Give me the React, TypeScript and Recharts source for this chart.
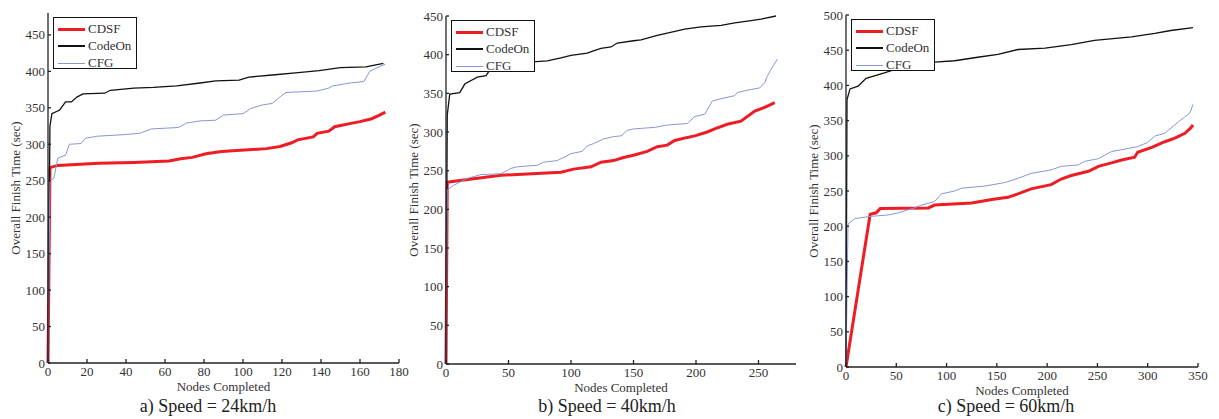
import { Line, LineChart, XAxis, YAxis } from "recharts";

const FONT = "'Liberation Serif', 'Times New Roman', serif";

const SERIES_NAMES = ["CDSF", "CodeOn", "CFG"];
const SERIES_COLORS = ["#EE1C24", "#111111", "#8797D6"];
const SERIES_WIDTHS = [3, 1.3, 1];

// panel a) 24km/h
const A_X_TICKS = [0, 20, 40, 60, 80, 100, 120, 140, 160, 180];
const A_Y_TICKS = [0, 50, 100, 150, 200, 250, 300, 350, 400, 450];
const A_CDSF = [[0, 0], [1, 268], [5, 271], [26, 274], [44, 275], [62, 277], [68, 280], [74, 282], [81, 287], [89, 290], [112, 294], [119, 297], [125, 302], [128, 306], [136, 310], [138, 315], [144, 318], [147, 324], [156, 329], [160, 331], [166, 335], [170, 340], [173, 344]];
const A_CODEON = [[0, 0], [1, 325], [2, 342], [6, 347], [9, 358], [12, 358], [15, 365], [18, 369], [29, 370], [32, 374], [44, 377], [54, 378], [66, 380], [78, 384], [86, 387], [98, 388], [103, 392], [115, 395], [127, 398], [139, 401], [150, 405], [163, 406], [172, 411]];
const A_CFG = [[0, 0], [1, 251], [3, 253], [5, 281], [9, 285], [11, 300], [17, 301], [19, 308], [25, 311], [38, 313], [47, 315], [53, 321], [67, 323], [71, 329], [78, 332], [86, 333], [90, 340], [100, 342], [104, 349], [110, 354], [115, 356], [119, 365], [122, 371], [138, 373], [144, 377], [146, 380], [155, 384], [162, 386], [165, 400], [168, 404], [173, 410]];

// panel b) 40km/h
const B_X_TICKS = [0, 50, 100, 150, 200, 250];
const B_Y_TICKS = [0, 50, 100, 150, 200, 250, 300, 350, 400, 450];
const B_CDSF = [[0, 0], [1, 235], [5, 236], [44, 244], [92, 248], [102, 252], [116, 255], [124, 261], [134, 263], [142, 267], [150, 270], [161, 275], [169, 281], [177, 283], [183, 289], [193, 293], [199, 295], [209, 300], [215, 304], [225, 310], [236, 314], [247, 327], [255, 332], [263, 338]];
const B_CODEON = [[0, 0], [1, 322], [3, 349], [11, 351], [15, 362], [25, 371], [32, 373], [35, 380], [45, 384], [58, 388], [72, 391], [81, 392], [92, 396], [100, 399], [113, 402], [118, 405], [124, 408], [132, 410], [137, 415], [150, 418], [156, 419], [169, 425], [177, 428], [191, 433], [204, 436], [220, 438], [231, 441], [244, 444], [252, 446], [264, 450]];
const B_CFG = [[0, 0], [1, 225], [6, 231], [17, 240], [28, 245], [44, 246], [52, 253], [57, 255], [73, 257], [78, 261], [89, 263], [100, 272], [109, 275], [113, 282], [118, 285], [126, 291], [134, 294], [140, 295], [145, 302], [150, 304], [167, 306], [177, 309], [193, 311], [199, 320], [207, 323], [213, 340], [220, 343], [231, 347], [233, 351], [241, 354], [251, 357], [255, 364], [257, 372], [260, 381], [265, 394]];

// panel c) 60km/h
const C_X_TICKS = [0, 50, 100, 150, 200, 250, 300, 350];
const C_Y_TICKS = [0, 50, 100, 150, 200, 250, 300, 350, 400, 450, 500];
const C_CDSF = [[0, 0], [24, 217], [30, 219], [34, 225], [82, 226], [88, 230], [125, 233], [145, 238], [161, 241], [171, 246], [184, 253], [204, 259], [214, 267], [224, 272], [241, 278], [251, 285], [264, 290], [274, 294], [287, 298], [290, 305], [304, 312], [317, 320], [327, 325], [337, 332], [343, 340], [345, 344]];
const C_CODEON = [[0, 0], [1, 380], [4, 395], [12, 399], [17, 406], [20, 410], [39, 418], [45, 421], [88, 433], [108, 435], [131, 440], [151, 444], [171, 451], [198, 453], [224, 458], [247, 464], [284, 469], [307, 474], [323, 478], [345, 482]];
const C_CFG = [[0, 0], [2, 203], [9, 211], [25, 214], [42, 216], [52, 219], [68, 226], [75, 230], [88, 235], [95, 246], [108, 250], [115, 254], [138, 257], [158, 262], [171, 268], [184, 275], [204, 280], [214, 285], [231, 287], [237, 292], [251, 296], [264, 306], [290, 313], [300, 319], [307, 328], [317, 332], [327, 344], [333, 351], [342, 361], [345, 373]];

const Y_AXIS_W = 48;
const X_AXIS_H = 32;
const TOP_PAD = 9;
const RIGHT_PAD = 16;
const AXIS_COLOR = "#222";
const TEXT_COLOR = "#333";

const toPts = (arr: number[][]) => arr.map(([n, t]) => ({ n, t }));

const panels = [
  {
    title: "a) Speed = 24km/h", titleX: 208,
    plotLeft: 48, plotTop: 13, plotW: 351, plotH: 350,
    xMax: 180, yMax: 480, xTicks: A_X_TICKS, yTicks: A_Y_TICKS,
    series: [A_CDSF, A_CODEON, A_CFG], legend: [53, 17],
  },
  {
    title: "b) Speed = 40km/h", titleX: 607,
    plotLeft: 446, plotTop: 16, plotW: 350, plotH: 348,
    xMax: 280, yMax: 450, xTicks: B_X_TICKS, yTicks: B_Y_TICKS,
    series: [B_CDSF, B_CODEON, B_CFG], legend: [451, 20],
  },
  {
    title: "c) Speed = 60km/h", titleX: 1006,
    plotLeft: 846, plotTop: 15, plotW: 352, plotH: 352,
    xMax: 350, yMax: 500, xTicks: C_X_TICKS, yTicks: C_Y_TICKS,
    series: [C_CDSF, C_CODEON, C_CFG], legend: [851, 19],
  },
];

const tickStyle = { fill: TEXT_COLOR, fontSize: 13, fontFamily: FONT };

function Legend({ left, top }: any) {
  return (
    <div
      style={{
        position: "absolute", left, top, width: 84, height: 52,
        border: "1px solid #111", background: "#fff", boxSizing: "border-box",
        fontFamily: FONT, fontSize: 13, color: TEXT_COLOR,
      }}
    >
      {SERIES_NAMES.map((name, i) => (
        <div key={name} style={{ position: "absolute", left: 0, top: 3 + i * 17, height: 16, display: "flex", alignItems: "center" }}>
          <div style={{ marginLeft: 4, width: 27, height: SERIES_WIDTHS[i], background: SERIES_COLORS[i] }} />
          <span style={{ marginLeft: 3, lineHeight: "16px" }}>{name}</span>
        </div>
      ))}
    </div>
  );
}

function Panel({ p }: any) {
  return (
    <>
      <div style={{ position: "absolute", left: p.plotLeft - Y_AXIS_W, top: p.plotTop - TOP_PAD }}>
        <LineChart
          width={Y_AXIS_W + p.plotW + RIGHT_PAD}
          height={TOP_PAD + p.plotH + X_AXIS_H}
          margin={{ top: TOP_PAD, right: RIGHT_PAD, bottom: 0, left: 0 }}
          style={{ fontFamily: FONT }}
        >
          <XAxis
            dataKey="n" type="number" domain={[0, p.xMax]} ticks={p.xTicks} interval={0}
            height={X_AXIS_H} tickSize={-4} tickMargin={8} tick={tickStyle}
            stroke={AXIS_COLOR} strokeWidth={1.3}
            label={{ value: "Nodes Completed", position: "insideBottom", offset: 4, fill: TEXT_COLOR, fontSize: 13, fontFamily: FONT }}
          />
          <XAxis
            xAxisId="top" orientation="top" type="number" domain={[0, p.xMax]} ticks={p.xTicks}
            allowDataOverflow height={0} tickSize={-4} tick={false} stroke={AXIS_COLOR} strokeWidth={1.3}
          />
          <YAxis
            type="number" domain={[0, p.yMax]} ticks={p.yTicks} interval={0}
            width={Y_AXIS_W} tickSize={-3} tickMargin={6} tick={tickStyle}
            stroke={AXIS_COLOR} strokeWidth={1.3}
            label={{
              value: "Overall Finish Time (sec)", angle: -90, position: "insideLeft", offset: 15,
              fill: TEXT_COLOR, fontSize: 13, fontFamily: FONT, style: { textAnchor: "middle" },
            }}
          />
          <YAxis
            yAxisId="right" orientation="right" type="number" domain={[0, p.yMax]} ticks={p.yTicks}
            allowDataOverflow width={0} tickSize={-4} tick={false} stroke={AXIS_COLOR} strokeWidth={1.3}
          />
          {p.series.map((s: number[][], i: number) => (
            <Line
              key={SERIES_NAMES[i]}
              data={toPts(s)}
              dataKey="t"
              name={SERIES_NAMES[i]}
              type="linear"
              stroke={SERIES_COLORS[i]}
              strokeWidth={SERIES_WIDTHS[i]}
              dot={false}
              isAnimationActive={false}
            />
          ))}
        </LineChart>
      </div>
      <Legend left={p.legend[0]} top={p.legend[1]} />
      <div
        style={{
          position: "absolute", left: p.titleX - 100, top: 397, width: 200,
          textAlign: "center", fontFamily: FONT, fontSize: 18, lineHeight: "18px", color: "#222",
        }}
      >
        {p.title}
      </div>
    </>
  );
}

export default function App() {
  return (
    <div style={{ position: "absolute", left: 0, top: 0, width: 1219, height: 419, background: "#fff", overflow: "hidden", fontFamily: FONT }}>
      <style>{`.recharts-wrapper text, .recharts-text { font-family: 'Liberation Serif', 'Times New Roman', serif !important; }`}</style>
      {panels.map((p) => (
        <Panel key={p.title} p={p} />
      ))}
    </div>
  );
}
